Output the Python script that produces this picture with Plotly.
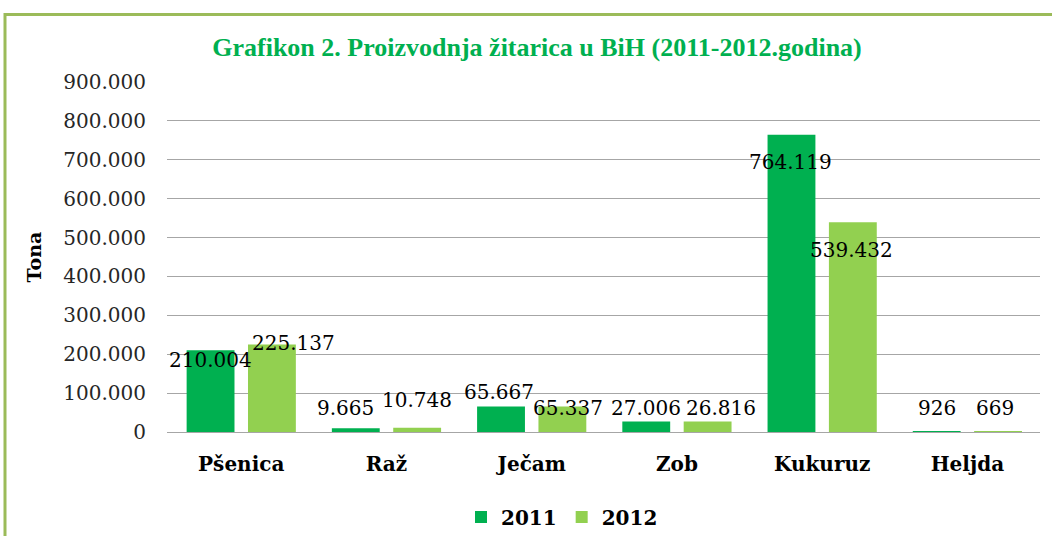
import plotly.graph_objects as go

categories = ["Pšenica", "Raž", "Ječam", "Zob", "Kukuruz", "Heljda"]
series_names = ["2011", "2012"]
values_2011 = [210004, 9665, 65667, 27006, 764119, 926]
values_2012 = [225137, 10748, 65337, 26816, 539432, 669]
y_ticks = [0, 100000, 200000, 300000, 400000, 500000, 600000, 700000, 800000, 900000]

# label placement (pixel offsets relative to bar center / bar top) - styling only
label_dx = {"2011": [0, -10, -2, 0, -1, 0], "2012": [22, 0, 6, 13, -1, -3]}
label_dy = {"2011": [-10, 20, 14, 14, -27, 24], "2012": [1, 28, -1, 14, -28, 24]}

colors = {"2011": "#00B050", "2012": "#92D050"}
series_values = {"2011": values_2011, "2012": values_2012}

def fmt(v):
    return f"{v:,}".replace(",", ".")

fig = go.Figure()
for name in series_names:
    fig.add_trace(go.Bar(
        x=categories, y=series_values[name], name=name,
        marker=dict(color=colors[name], line=dict(width=0)),
        hoverinfo="skip",
    ))

L, R, T, B = 167, 12, 82, 104
W, H = 1052, 536
pw, ph = W - L - R, H - T - B
cat_w = pw / len(categories)
bargap = 0.155
slot = cat_w * (1 - bargap) / 2

SERIF = "DejaVu Serif"

annotations = []
for si, name in enumerate(series_names):
    off = (si - 0.5) * slot
    for i, c in enumerate(categories):
        annotations.append(dict(
            x=c, y=series_values[name][i], xref="x", yref="y",
            text=fmt(series_values[name][i]), showarrow=False,
            xshift=off + label_dx[name][i], yshift=label_dy[name][i],
            font=dict(family=SERIF, size=20, color="#000000"),
            xanchor="center", yanchor="middle",
        ))

fig.update_layout(
    width=W, height=H,
    margin=dict(l=L, r=R, t=T, b=B),
    paper_bgcolor="white", plot_bgcolor="white",
    separators=",.",
    barmode="group", bargap=bargap, bargroupgap=0.22,
    title=dict(
        text="<b>Grafikon 2. Proizvodnja žitarica u BiH (2011-2012.godina)</b>",
        x=537 / W, xref="container", xanchor="center",
        y=1 - 47 / H, yref="container", yanchor="middle",
        font=dict(family="Liberation Serif", size=26, color="#00B050"),
    ),
    xaxis=dict(
        showgrid=False, showline=False, ticks="",
        tickfont=dict(family=SERIF, size=20, color="#000000", weight="bold"),
        ticklabelstandoff=18,
    ),
    yaxis=dict(
        range=[0, 900000], tickvals=y_ticks, tickformat=",.0f",
        showgrid=True, gridcolor="#A6A6A6", gridwidth=1,
        zeroline=True, zerolinecolor="#A6A6A6", zerolinewidth=1,
        showline=False, ticks="",
        tickfont=dict(family=SERIF, size=20, color="#262626"),
        ticklabelstandoff=20,
        title=dict(text="<b>Tona</b>", standoff=16,
                   font=dict(family=SERIF, size=19, color="#000000")),
    ),
    legend=dict(
        orientation="h", x=562 / W, xref="container", xanchor="center",
        y=1 - 517 / H, yref="container", yanchor="middle",
        font=dict(family=SERIF, size=20, color="#000000", weight="bold"),
        itemwidth=30, traceorder="normal",
    ),
    annotations=annotations,
    showlegend=True,
)

# outer chart border (green, top and left visible)
fig.add_shape(
    type="rect", xref="paper", yref="paper",
    x0=(5 - L) / pw, x1=(W + 20 - L) / pw,
    y0=-(H + 20 - (T + ph)) / ph, y1=(T + ph - 14.5) / ph,
    line=dict(color="#9BBB59", width=3), fillcolor="rgba(0,0,0,0)", layer="below",
)

fig.write_html("out.html", config={"displayModeBar": False},
               post_script="document.body.style.margin='0';")
